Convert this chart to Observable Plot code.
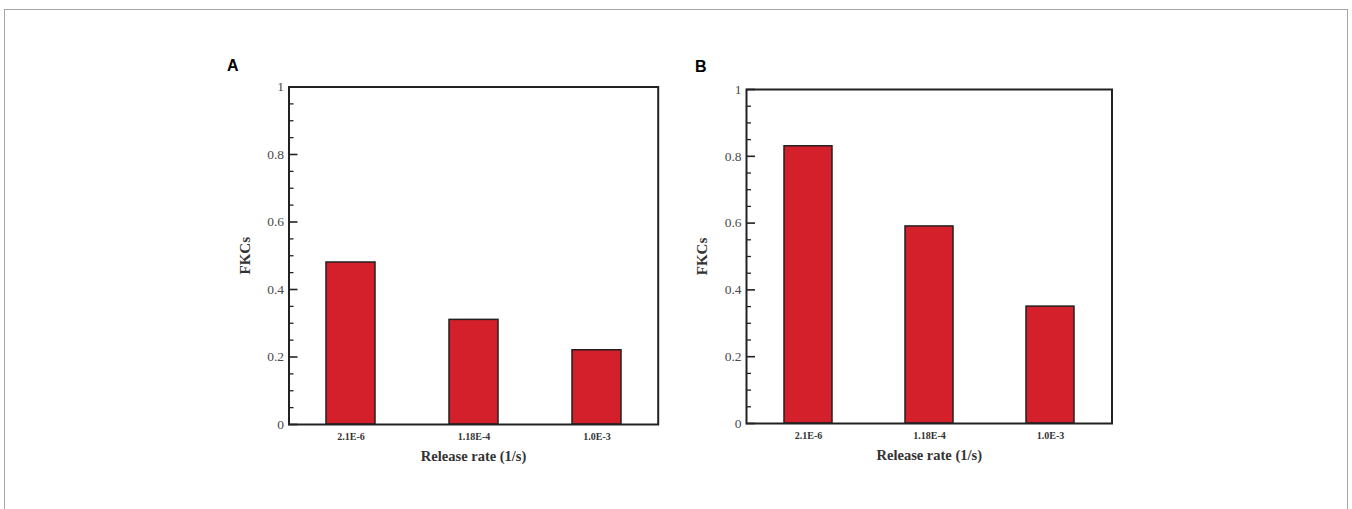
<!DOCTYPE html>
<html>
<head>
<meta charset="utf-8">
<script src="https://cdn.jsdelivr.net/npm/d3@7"></script>
<script src="https://cdn.jsdelivr.net/npm/@observablehq/plot@0.6"></script>
<style>
  html, body { margin: 0; padding: 0; background: #fff; }
  #wrap { position: relative; width: 1352px; height: 509px; overflow: hidden; background: #fff; }
  #border { position: absolute; left: 4px; top: 9px; width: 1344px; height: 560px; border: 1px solid #a6a6a6; box-sizing: border-box; }
  .panel { position: absolute; }
  .letter { position: absolute; font-family: "Liberation Sans", Arial, sans-serif; font-weight: bold; font-size: 16px; line-height: 16px; color: #000; }
</style>
</head>
<body>
<div id="wrap">
  <div id="border"></div>
  <div class="letter" style="left:227px; top:58px;">A</div>
  <div class="letter" style="left:695px; top:59px;">B</div>
  <div id="panelA" class="panel" style="left:220px; top:50px;"></div>
  <div id="panelB" class="panel" style="left:680px; top:50px;"></div>
</div>
<script>
// ---- data ----
const categories = ["2.1E-6", "1.18E-4", "1.0E-3"];
const fkcA = [0.48, 0.31, 0.22];
const fkcB = [0.83, 0.59, 0.35];
const majorTicks = [0, 0.2, 0.4, 0.6, 0.8, 1];
const minorTicks = [0.05, 0.1, 0.15, 0.25, 0.3, 0.35, 0.45, 0.5, 0.55, 0.65, 0.7, 0.75, 0.85, 0.9, 0.95];
const xLabel = "Release rate (1/s)";
const yLabel = "FKCs";

function panel(values, m) {
  const data = categories.map((c, i) => ({cat: c, v: values[i]}));
  const W = 460, H = 430;
  const plotW = W - m.left - m.right;
  const serif = "'Liberation Serif', 'Times New Roman', serif";
  return Plot.plot({
    width: W, height: H,
    marginLeft: m.left, marginRight: m.right, marginTop: m.top, marginBottom: m.bottom,
    style: {fontFamily: serif, background: "transparent", overflow: "visible"},
    x: {type: "band", domain: categories, paddingInner: 0.6, paddingOuter: 0.3, axis: null},
    y: {domain: [0, 1], axis: null},
    marks: [
      Plot.barY(data, {x: "cat", y: "v", fill: "#d3202a", stroke: "#231f20", strokeWidth: 1.5}),
      Plot.ruleY(minorTicks, {y: d => d, insetRight: plotW - 5, stroke: "#222", strokeWidth: 1.3}),
      Plot.ruleY(majorTicks, {y: d => d, insetRight: plotW - 9, stroke: "#222", strokeWidth: 1.6}),
      Plot.frame({stroke: "#222", strokeWidth: 2}),
      Plot.text(majorTicks, {y: d => d, text: d => String(d), frameAnchor: "left", dx: -5, textAnchor: "end", lineAnchor: "middle", fill: "#4a4a4a", fontSize: 13.5, fontFamily: serif}),
      Plot.text(categories, {x: d => d, text: d => d, frameAnchor: "bottom", dy: 12, textAnchor: "middle", lineAnchor: "middle", fill: "#333", fontSize: 10, fontWeight: "bold", fontFamily: serif}),
      Plot.text([xLabel], {text: d => d, frameAnchor: "bottom", dy: 32, textAnchor: "middle", lineAnchor: "middle", fill: "#333", fontSize: 14.5, fontWeight: "bold", fontFamily: serif}),
      Plot.text([yLabel], {text: d => d, frameAnchor: "left", dx: -44, rotate: -90, textAnchor: "middle", lineAnchor: "middle", fill: "#333", fontSize: 15, fontWeight: "bold", fontFamily: serif})
    ]
  });
}

document.getElementById("panelA").append(panel(fkcA, {left: 68.5, right: 22.3, top: 36.5, bottom: 56}));
document.getElementById("panelB").append(panel(fkcB, {left: 66, right: 28.5, top: 39, bottom: 57}));
</script>
</body>
</html>
